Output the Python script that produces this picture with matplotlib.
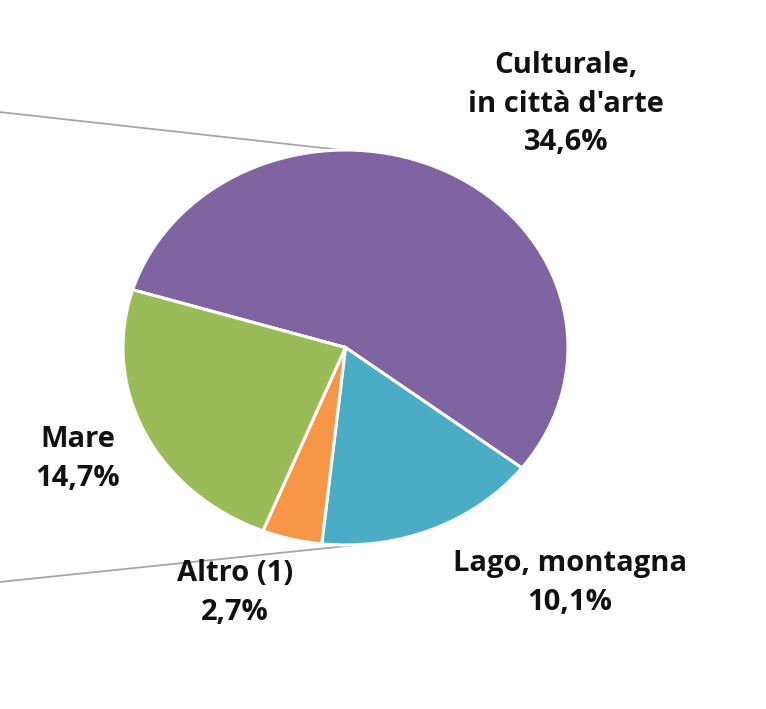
import matplotlib
matplotlib.use("Agg")
import matplotlib.pyplot as plt
import numpy as np

# Data (share of total, %) - secondary pie of a pie-of-pie chart
categories = ["Culturale,\nin città d'arte", "Lago, montagna", "Altro (1)", "Mare"]
values = [34.6, 10.1, 2.7, 14.7]
value_labels = ["34,6%", "10,1%", "2,7%", "14,7%"]
colors = ["#8064A2", "#4BACC6", "#F79646", "#9BBB59"]

W, H = 766, 709
fig = plt.figure(figsize=(W / 100, H / 100), dpi=100)

# pie ellipse extents in pixels
px_l, px_r, px_t, px_b = 123, 568, 150, 545
ax = fig.add_axes([px_l / W, 1 - px_b / H, (px_r - px_l) / W, (px_b - px_t) / H])

wedges, _ = ax.pie(values, colors=colors, startangle=163, counterclock=False,
                   wedgeprops=dict(edgecolor="white", linewidth=2.2))
ax.set_aspect("auto")
ax.set_xlim(-1, 1)
ax.set_ylim(-1, 1)
ax.axis("off")

# connector lines toward the (cropped) primary pie
left_x = -(px_l / ((px_r - px_l) / 2)) - 1 + 0.0
for ang, ly in [(91, 1.192), (-86, -1.187)]:
    a = np.deg2rad(ang)
    ax.plot([np.cos(a), left_x], [np.sin(a), ly], color="#A6A6A6", lw=1.3,
            clip_on=False, zorder=0)

font = dict(family=["Open Sans", "DejaVu Sans"], fontweight="bold", fontsize=21,
            color="#111111", ha="center", va="center", linespacing=1.45)

# label positions in pixels (centre of text block)
label_pos = [(566, 104), (570, 583), (235, 593), (78, 459)]
for cat, vl, (lx, ly) in zip(categories, value_labels, label_pos):
    fig.text(lx / W, 1 - ly / H, f"{cat}\n{vl}", **font)

fig.savefig("out.png", dpi=100, facecolor="white")
